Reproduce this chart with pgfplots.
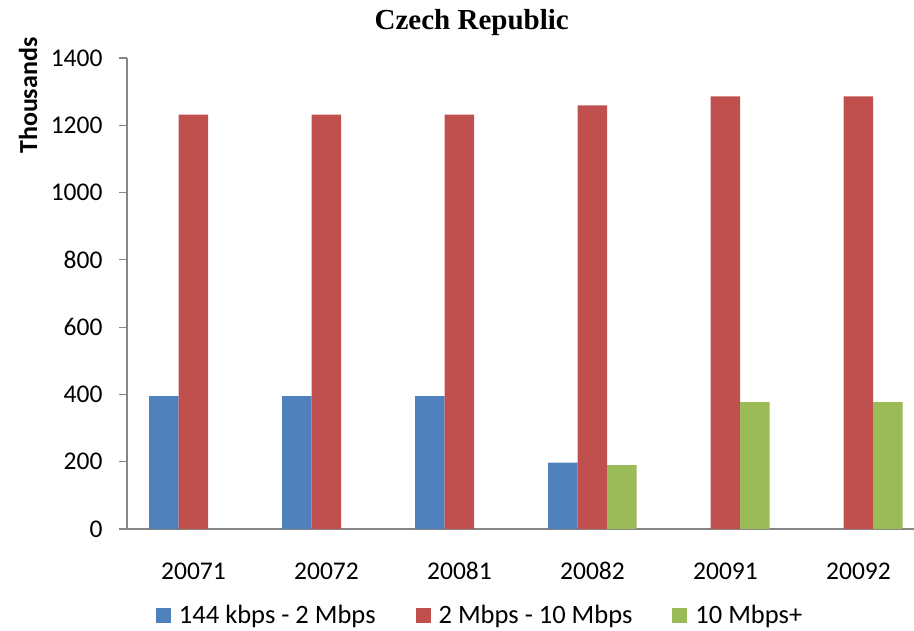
\documentclass[border=0pt]{standalone}
\usepackage{pgfplots}
\pgfplotsset{compat=1.18}
\usepackage{fontspec}
\setmainfont{Carlito}
\newfontfamily\titlefont{Liberation Serif}
\definecolor{cblue}{HTML}{4F81BD}
\definecolor{cred}{HTML}{C0504D}
\definecolor{cgreen}{HTML}{9BBB59}
\definecolor{axgray}{HTML}{868686}
\begin{document}
\begin{tikzpicture}
\begin{axis}[
  at={(127pt,102pt)}, anchor=south west,
  scale only axis, width=798pt, height=471pt,
  xmin=-0.5, xmax=5.5, ymin=0, ymax=1400,
  ybar=0pt, bar width=29.5pt,
  axis lines*=left,
  axis line style={axgray, line width=1.2pt},
  xtick={0,1,2,3,4,5},
  xticklabels={20071,20072,20081,20082,20091,20092},
  minor xtick={-0.5,0.5,1.5,2.5,3.5,4.5,5.5},
  xtick style={draw=none},
  minor x tick style={axgray, line width=1.2pt},
  minor tick length=8pt,
  ytick={0,200,...,1400},
  ytick style={axgray, line width=1.2pt},
  major tick length=8pt,
  tick align=outside,
  /pgf/number format/assume math mode=true,
  /pgf/number format/1000 sep={},
  tick label style={font=\fontsize{25.5}{30}\selectfont},
  xticklabel style={yshift=-22pt},
  yticklabel style={xshift=-13pt},
  ylabel={\bfseries Thousands},
  ylabel style={font=\fontsize{26}{30}\selectfont, at={(axis description cs:-0.124,0.92)}, anchor=center, rotate=0},
  title={\titlefont\bfseries Czech Republic},
  title style={font=\fontsize{29}{34}\selectfont, at={(axis description cs:0.432,1.063)}, anchor=center},
  legend columns=3,
  legend style={draw=none, fill=none, inner sep=0pt, outer sep=0pt,
    nodes={inner sep=0pt}, font=\fontsize{26.5}{30}\selectfont,
    at={(axis description cs:0.0363,-0.1826)}, anchor=west,
    /tikz/every odd column/.append style={column sep=8pt},
    /tikz/every even column/.append style={column sep=40pt}},
  legend image code/.code={\fill[#1] (0pt,-7.5pt) rectangle (15pt,7.5pt);},
  clip=false,
]
\addplot[fill=cblue, draw=none] coordinates {(0,395) (1,395) (2,395) (3,197)};
\addplot[fill=cred, draw=none] coordinates {(0,1232) (1,1232) (2,1232) (3,1259) (4,1286) (5,1286)};
\addplot[fill=cgreen, draw=none] coordinates {(3,190) (4,377) (5,377)};
\legend{144 kbps - 2 Mbps, 2 Mbps - 10 Mbps, 10 Mbps+}
\end{axis}
\pgfresetboundingbox
\path (0,0) rectangle (914pt,631pt);
\end{tikzpicture}
\end{document}
